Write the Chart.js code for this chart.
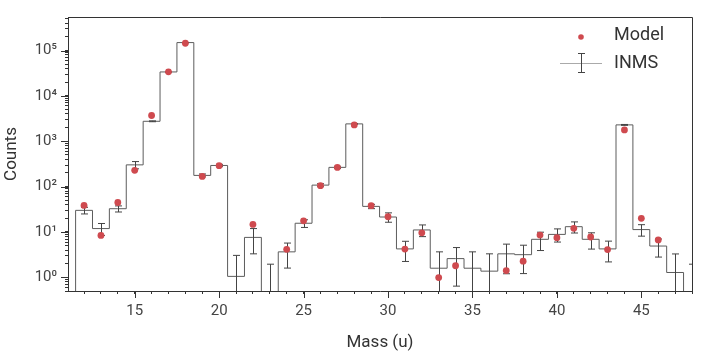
<!DOCTYPE html>
<html>
<head>
<meta charset="utf-8">
<script src="https://cdn.jsdelivr.net/npm/chart.js@4.4.1/dist/chart.umd.min.js"></script>
<style>
    html, body { margin: 0; padding: 0; background: #fff; }
</style>
</head>
<body>
<canvas id="spectrum" width="701" height="354"></canvas>
<script>
// mass bins (u), 11 and 49 are empty edge bins so the steps close at the borders
const masses = [11, 12, 13, 14, 15, 16, 17, 18, 19, 20, 21, 22, 23, 24, 25, 26, 27, 28, 29, 30,
    31, 32, 33, 34, 35, 36, 37, 38, 39, 40, 41, 42, 43, 44, 45, 46, 47, 48, 49];

// INMS measured counts per bin, 0 = nothing measured
const inmsCounts = [0, 30, 11.9, 32.6, 302, 2760, 33800, 150000, 177, 293, 1.05, 7.6, 0, 3.65, 15.6, 108, 266, 2420, 36.7, 21.4,
    4.24, 11.1, 1.59, 2.59, 1.59, 1.37, 3.3, 3.16, 6.9, 8.85, 13.1, 6.9, 4.24, 2300, 11.3, 4.9, 1.28, 0, 0];

// INMS errors (+/-)
const inmsErrors = [null, 5, 3.5, 5, 55, 60, 200, 400, 13, 17, 2, 4.3, 1.95, 2.05, 3, 8, 15, 50, 4, 5,
    2, 3.2, 2.06, 1.95, 2.06, 1.93, 2.1, 1.95, 3, 2.85, 3.6, 2.7, 2.05, 50, 3.2, 2.1, 2, 1.95, null];

// model counts
const modelCounts = [null, 38.6, 8.4, 44.7, 229, 3700, 34000, 145000, 168, 290, null, 14.7, null, 4.15, 17.6, 105, 265, 2300, 38, 21.7,
    4.2, 9.6, 0.99, 1.8, null, null, 1.41, 2.27, 8.55, 7.5, 12.05, 7.75, 4.1, 1780, 20, 6.7, null, null, null];

const xTicks = [12, 13, 14, 15, 16, 17, 18, 19, 20, 21, 22, 23, 24, 25, 26, 27, 28, 29, 30,
    31, 32, 33, 34, 35, 36, 37, 38, 39, 40, 41, 42, 43, 44, 45, 46, 47, 48];
const xTickLabels = [15, 20, 25, 30, 35, 40, 45];
const yDecades = [1, 10, 100, 1000, 10000, 100000];
const yDecadeLabels = ['10⁰', '10¹', '10²', '10³', '10⁴', '10⁵'];

const yMin = 0.5, yMax = 5.5e5;
const lineGray = '#5c5c5c';
const modelRed = '#cf4a4f';

function yTickValues() {
    let vals = [];
    for (let k = -1; k <= 5; k++) {
        for (let m = 1; m <= 9; m++) {
            let v = +(m * Math.pow(10, k)).toPrecision(6);
            if (v >= yMin && v <= yMax) vals.push(v);
        }
    }
    return vals;
}

function isDecade(v) {
    return yDecades.indexOf(v) !== -1;
}

const stepData = masses.map((m, i) => ({ x: m, y: inmsCounts[i] > 0 ? inmsCounts[i] : 0.1 }));
const modelData = masses.map((m, i) => ({ x: m, y: modelCounts[i] }));

// error bars of the INMS series, drawn right after the step line
const errorBarPlugin = {
    id: 'errorBars',
    afterDatasetDraw(chart, args) {
        if (args.index !== 1) return;
        const ctx = chart.ctx, xs = chart.scales.x, ys = chart.scales.y, area = chart.chartArea;
        ctx.save();
        ctx.beginPath();
        ctx.rect(area.left, area.top, area.right - area.left, area.bottom - area.top);
        ctx.clip();
        ctx.strokeStyle = '#444';
        ctx.lineWidth = 1;
        masses.forEach((m, i) => {
            let err = inmsErrors[i];
            if (err === null) return;
            let x = Math.round(xs.getPixelForValue(m)) + 0.5;
            let hi = inmsCounts[i] + err;
            let lo = inmsCounts[i] - err;
            let yHi = ys.getPixelForValue(hi);
            let yLo = lo > 0 ? ys.getPixelForValue(lo) : area.bottom + 10;
            ctx.beginPath();
            ctx.moveTo(x, yHi);
            ctx.lineTo(x, yLo);
            ctx.moveTo(x - 3.5, yHi);
            ctx.lineTo(x + 3.5, yHi);
            if (lo > 0) {
                ctx.moveTo(x - 3.5, yLo);
                ctx.lineTo(x + 3.5, yLo);
            }
            ctx.stroke();
        });
        ctx.restore();
    }
};

// box around the plot, longer major ticks and the legend
const framePlugin = {
    id: 'frame',
    afterDraw(chart) {
        const ctx = chart.ctx, area = chart.chartArea, xs = chart.scales.x, ys = chart.scales.y;
        ctx.save();
        ctx.strokeStyle = '#333';
        ctx.lineWidth = 1;
        ctx.beginPath();
        ctx.moveTo(area.left, area.top + 0.5);
        ctx.lineTo(area.right + 0.5, area.top + 0.5);
        ctx.lineTo(area.right + 0.5, area.bottom);
        xTickLabels.forEach(v => {
            let x = Math.round(xs.getPixelForValue(v)) + 0.5;
            ctx.moveTo(x, area.bottom);
            ctx.lineTo(x, area.bottom + 7);
        });
        yDecades.forEach(v => {
            let y = Math.round(ys.getPixelForValue(v)) + 0.5;
            ctx.moveTo(area.left, y);
            ctx.lineTo(area.left - 7, y);
        });
        ctx.stroke();

        // legend
        let lx = area.right - 111;
        ctx.fillStyle = modelRed;
        ctx.beginPath();
        ctx.arc(lx, 37, 2.8, 0, Math.PI * 2);
        ctx.fill();
        ctx.strokeStyle = '#aaa';
        ctx.beginPath();
        ctx.moveTo(lx - 21, 63.5);
        ctx.lineTo(lx + 21, 63.5);
        ctx.stroke();
        ctx.strokeStyle = '#444';
        ctx.beginPath();
        ctx.moveTo(lx + 0.5, 53);
        ctx.lineTo(lx + 0.5, 73);
        ctx.moveTo(lx - 3, 53.5);
        ctx.lineTo(lx + 4, 53.5);
        ctx.moveTo(lx - 3, 72.5);
        ctx.lineTo(lx + 4, 72.5);
        ctx.stroke();
        ctx.fillStyle = '#333';
        ctx.font = '18px Roboto';
        ctx.textBaseline = 'middle';
        ctx.textAlign = 'left';
        ctx.fillText('Model', area.right - 78, 35);
        ctx.fillText('INMS', area.right - 78, 63);
        ctx.restore();
    }
};

var ctx = document.getElementById('spectrum').getContext('2d');
var chart = new Chart(ctx, {
    type: 'line',
    data: {
        datasets: [{
            label: 'Model',
            data: modelData,
            showLine: false,
            pointRadius: 3.4,
            pointBackgroundColor: modelRed,
            pointBorderWidth: 0,
            order: 0
        }, {
            label: 'INMS',
            data: stepData,
            stepped: 'middle',
            borderColor: lineGray,
            borderWidth: 1,
            pointRadius: 0,
            fill: false,
            order: 1
        }]
    },
    options: {
        responsive: false,
        animation: false,
        events: [],
        layout: { padding: { top: 8, right: 9, left: 0, bottom: 0 } },
        plugins: {
            legend: { display: false },
            tooltip: { enabled: false }
        },
        scales: {
            x: {
                type: 'linear',
                min: 11.05,
                max: 48,
                afterBuildTicks: (scale) => { scale.ticks = xTicks.map(v => ({ value: v })); },
                afterFit: (scale) => { scale.height = 63; },
                grid: { display: true, drawOnChartArea: false, drawTicks: true, tickLength: 3, tickColor: '#333' },
                border: { display: true, color: '#333', width: 1 },
                ticks: {
                    autoSkip: false,
                    maxRotation: 0,
                    padding: 8,
                    color: '#444',
                    font: { family: 'Roboto', size: 15 },
                    callback: (v) => xTickLabels.indexOf(v) !== -1 ? String(v) : ''
                },
                title: {
                    display: true,
                    text: 'Mass (u)',
                    color: '#333',
                    font: { family: 'Roboto', size: 17 },
                    padding: { top: 0, bottom: 1 }
                }
            },
            y: {
                type: 'logarithmic',
                min: yMin,
                max: yMax,
                afterBuildTicks: (scale) => { scale.ticks = yTickValues().map(v => ({ value: v })); },
                afterFit: (scale) => { scale.width = 68; },
                grid: { display: true, drawOnChartArea: false, drawTicks: true, tickLength: 3, tickColor: '#333' },
                border: { display: true, color: '#333', width: 1 },
                ticks: {
                    autoSkip: false,
                    padding: 8,
                    color: '#444',
                    font: { family: 'Roboto', size: 15 },
                    callback: (v) => isDecade(v) ? yDecadeLabels[yDecades.indexOf(v)] : ''
                },
                title: {
                    display: true,
                    text: 'Counts',
                    color: '#333',
                    font: { family: 'Roboto', size: 17 },
                    padding: { top: 2, bottom: 0 }
                }
            }
        }
    },
    plugins: [errorBarPlugin, framePlugin]
});
</script>
</body>
</html>
